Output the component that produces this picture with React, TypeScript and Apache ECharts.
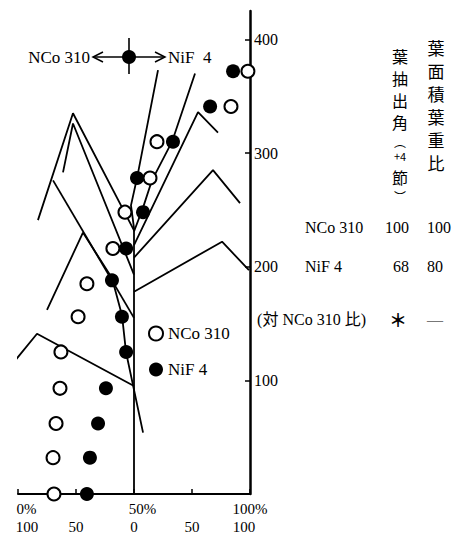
import React, { useEffect, useRef } from 'react';
import * as echarts from 'echarts';

// ---- circles: relative value (%) at each height ----
const ncoHeights = [0, 32, 62, 93, 125, 156, 185, 216, 248, 278, 310, 341, 372];
const nifHeights = [0, 32, 62, 93, 125, 156, 188, 216, 248, 278, 310, 341, 372];
const ncoPct = [15.5, 15.1, 16.4, 18.1, 18.5, 25.9, 29.7, 40.9, 46.1, 56.9, 59.9, 91.8, 99.1];
const nifPct = [29.7, 31.0, 34.5, 37.9, 46.6, 44.8, 40.5, 46.6, 53.9, 51.3, 66.8, 82.8, 92.7];

// ---- axis ticks / labels ----
const pctTicks = [0, 25, 50, 75, 100];
const pctLabels = [0, 50, 100];
const distLabels = [-100, -50, 0, 50, 100];
const heightTicks = [100, 200, 300, 400];

// ---- leaf profile polylines: [horizontal distance (left NCo 310 / right NiF 4), height] ----
const stem = [[0, 0], [0, 234]];
const topLeaf1 = [[0, 234], [-2.6, 254], [2.6, 278], [20.7, 373]];
const topLeaf2 = [[0, 231], [7.8, 252], [15.5, 276], [32.8, 310], [52.6, 370]];
const rightLeaf1 = [[0, 219], [55.2, 336], [72.4, 318]];
const rightLeaf2 = [[0, 208], [68.1, 285], [91.4, 256]];
const rightLeaf3 = [[0, 178], [75.9, 222], [99.1, 197]];
const leftLeaf1 = [[0, 232], [-52.6, 335], [-82.8, 241]];
const leftLeaf2 = [[0, 193], [-52.6, 326], [-61.2, 283]];
const leftLeaf3 = [[0, 155], [-69.8, 276]];
const leftLeaf4 = [[-75, 162], [-44, 230], [-19, 190], [-10.3, 157], [-6.9, 125], [7.8, 54]];
const leftLeaf5 = [[0, 95], [-83.6, 141], [-106, 113]];
const leaves = [stem, topLeaf1, topLeaf2, rightLeaf1, rightLeaf2, rightLeaf3, leftLeaf1, leftLeaf2, leftLeaf3, leftLeaf4, leftLeaf5];

// ---- table ----
const colAngle = ['葉', '抽', '出', '角', '︵', '+4', '節', '︶'];
const colAngleY = [56, 78, 100, 122, 141, 156, 177, 196];
const colArea = ['葉', '面', '積', '葉', '重', '比'];
const colAreaY = [47, 70, 93, 116, 139, 162];
const rowNames = ['NCo 310', 'NiF 4', '(対 NCo 310 比)'];
const rowAngle = ['100', '68', '＊'];
const rowArea = ['100', '80', '—'];
const rowY = [227, 266, 319];

const SERIF = '"Liberation Serif", "DejaVu Serif", serif';
const CJK = '"Noto Sans CJK JP", "Noto Sans CJK SC", sans-serif';

export default function App() {
  const ref = useRef<HTMLDivElement>(null);
  useEffect(() => {
    document.body.style.margin = '0';
    if (!ref.current) return;
    const chart = echarts.init(ref.current, null, { renderer: 'svg' });

    const graphics: any[] = [];
    // top direction legend
    graphics.push({ type: 'text', x: 90, y: 57, style: { text: 'NCo 310', font: `17px ${SERIF}`, fill: '#000', align: 'right', verticalAlign: 'middle' } });
    graphics.push({ type: 'text', x: 168, y: 57, style: { text: 'NiF  4', font: `17px ${SERIF}`, fill: '#000', align: 'left', verticalAlign: 'middle' } });
    graphics.push({ type: 'line', shape: { x1: 93, y1: 57, x2: 165, y2: 57 }, style: { stroke: '#000', lineWidth: 1.5 } });
    graphics.push({ type: 'polyline', shape: { points: [[103, 52], [93, 57], [103, 62]] }, style: { stroke: '#000', lineWidth: 1.5, fill: null } });
    graphics.push({ type: 'polyline', shape: { points: [[155, 52], [165, 57], [155, 62]] }, style: { stroke: '#000', lineWidth: 1.5, fill: null } });
    graphics.push({ type: 'line', shape: { x1: 129, y1: 38, x2: 129, y2: 74 }, style: { stroke: '#000', lineWidth: 1.6 } });
    graphics.push({ type: 'circle', shape: { cx: 129, cy: 57, r: 7 }, style: { fill: '#000' } });

    // table headers (vertical)
    colAngle.forEach((c, i) => {
      const paren = c === '︵' || c === '︶';
      const fs = c === '+4' ? 11 : paren ? 12 : 16;
      graphics.push({ type: 'text', x: 400, y: colAngleY[i], style: { text: c, font: `${fs}px ${CJK}`, fill: '#000', align: 'center', verticalAlign: 'middle' } });
    });
    colArea.forEach((c, i) => {
      graphics.push({ type: 'text', x: 436, y: colAreaY[i], style: { text: c, font: `17px ${CJK}`, fill: '#000', align: 'center', verticalAlign: 'middle' } });
    });
    rowNames.forEach((n, i) => {
      const last = i === 2;
      graphics.push({ type: 'text', x: last ? 366 : 305, y: rowY[i], style: { text: n, font: `16px ${SERIF}, ${CJK}`, fill: '#000', align: last ? 'right' : 'left', verticalAlign: 'middle' } });
      graphics.push({ type: 'text', x: last ? 398 : 409, y: rowY[i], style: { text: rowAngle[i], font: last ? `bold 18px ${CJK}` : `16px ${SERIF}`, fill: '#000', align: last ? 'center' : 'right', verticalAlign: 'middle' } });
      graphics.push({ type: 'text', x: 427, y: rowY[i], style: { text: rowArea[i], font: `16px ${SERIF}`, fill: last ? '#777' : '#000', align: 'left', verticalAlign: 'middle' } });
    });

    const lineSeries = leaves.map((pts, i) => ({
      type: 'line',
      name: 'leaf' + i,
      xAxisIndex: 1,
      yAxisIndex: 0,
      data: pts,
      symbol: 'none',
      clip: false,
      silent: true,
      z: 1,
      lineStyle: { color: '#000', width: 1.8 },
    }));

    const option: any = {
      animation: false,
      backgroundColor: '#fff',
      grid: { left: 18, right: 204, top: 11, bottom: 42, containLabel: false, outerBoundsMode: 'none' },
      xAxis: [
        {
          type: 'value', min: 0, max: 100, interval: 25, position: 'bottom',
          axisLine: { show: true, onZero: false, lineStyle: { color: '#000', width: 2 } },
          axisTick: { show: true, inside: true, length: 5, customValues: pctTicks, lineStyle: { color: '#000', width: 1.5 } },
          axisLabel: {
            customValues: pctLabels, margin: 7, color: '#000', fontFamily: SERIF, fontSize: 15,
            formatter: (v: number) => (v === 100 ? '{b|100%}' : `{a|${v}%}`),
            rich: {
              a: { padding: [0, 0, 0, 17], fontFamily: SERIF, fontSize: 15, color: '#000' },
              b: { fontFamily: SERIF, fontSize: 15, color: '#000' },
            },
          },
          splitLine: { show: false },
        },
        {
          type: 'value', min: -100, max: 100, interval: 50, position: 'bottom',
          axisLine: { show: false, onZero: false }, axisTick: { show: false },
          axisLabel: {
            customValues: distLabels, margin: 25, color: '#000', fontFamily: SERIF, fontSize: 15,
            formatter: (v: number) => (v === -100 ? '{l|100}' : v === 100 ? '{r|100}' : `{c|${Math.abs(v)}}`),
            rich: {
              l: { padding: [0, 0, 0, 18], fontFamily: SERIF, fontSize: 15, color: '#000' },
              r: { padding: [0, 12, 0, 0], fontFamily: SERIF, fontSize: 15, color: '#000' },
              c: { fontFamily: SERIF, fontSize: 15, color: '#000' },
            },
          },
          splitLine: { show: false },
        },
      ],
      yAxis: {
        type: 'value', position: 'right', min: 0, max: 425, interval: 100,
        axisLine: { show: true, onZero: false, lineStyle: { color: '#000', width: 2.5 } },
        axisTick: { show: true, inside: true, length: 5, customValues: heightTicks, lineStyle: { color: '#000', width: 1.5 } },
        axisLabel: { customValues: heightTicks, margin: 4, color: '#000', fontFamily: SERIF, fontSize: 16 },
        splitLine: { show: false },
      },
      legend: {
        data: [
          { name: 'NCo 310', icon: 'circle', itemStyle: { color: '#fff', borderColor: '#000', borderWidth: 2 } },
          { name: 'NiF 4', icon: 'circle', itemStyle: { color: '#000' } },
        ],
        orient: 'vertical', left: 148, top: 325, padding: 0,
        itemWidth: 14, itemHeight: 14, itemGap: 19, selectedMode: false,
        textStyle: { fontFamily: SERIF, fontSize: 17, color: '#000' },
      },
      graphic: graphics,
      series: [
        ...lineSeries,
        {
          type: 'scatter', name: 'NCo 310', xAxisIndex: 0, yAxisIndex: 0, z: 3,
          data: ncoPct.map((x, i) => [x, ncoHeights[i]]),
          symbol: 'circle', symbolSize: 13,
          itemStyle: { color: '#fff', borderColor: '#000', borderWidth: 2, opacity: 1 },
        },
        {
          type: 'scatter', name: 'NiF 4', xAxisIndex: 0, yAxisIndex: 0, z: 3,
          data: nifPct.map((x, i) => [x, nifHeights[i]]),
          symbol: 'circle', symbolSize: 14,
          itemStyle: { color: '#000', opacity: 1 },
        },
      ],
    };
    chart.setOption(option);
    return () => chart.dispose();
  }, []);
  return <div ref={ref} style={{ width: 454, height: 536, background: '#fff' }} />;
}
